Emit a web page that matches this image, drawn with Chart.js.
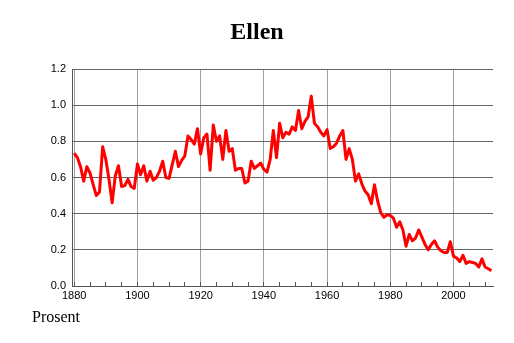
<!DOCTYPE html>
<html>
<head>
<meta charset="utf-8">
<script src="https://cdn.jsdelivr.net/npm/chart.js@4/dist/chart.umd.min.js"></script>
<style>
html,body{margin:0;padding:0;background:#fff;}
#wrap{width:514px;height:343px;}
</style>
</head>
<body>
<div id="wrap"><canvas id="c" width="514" height="343"></canvas></div>
<script>
const chartTitle = 'Ellen';
const unitLabel = 'Prosent';
const years = [
  1880,1881,1882,1883,1884,1885,1886,1887,1888,1889,
  1890,1891,1892,1893,1894,1895,1896,1897,1898,1899,
  1900,1901,1902,1903,1904,1905,1906,1907,1908,1909,
  1910,1911,1912,1913,1914,1915,1916,1917,1918,1919,
  1920,1921,1922,1923,1924,1925,1926,1927,1928,1929,
  1930,1931,1932,1933,1934,1935,1936,1937,1938,1939,
  1940,1941,1942,1943,1944,1945,1946,1947,1948,1949,
  1950,1951,1952,1953,1954,1955,1956,1957,1958,1959,
  1960,1961,1962,1963,1964,1965,1966,1967,1968,1969,
  1970,1971,1972,1973,1974,1975,1976,1977,1978,1979,
  1980,1981,1982,1983,1984,1985,1986,1987,1988,1989,
  1990,1991,1992,1993,1994,1995,1996,1997,1998,1999,
  2000,2001,2002,2003,2004,2005,2006,2007,2008,2009,
  2010,2011,2012
];
const percent = [
  0.735,0.71,0.66,0.58,0.66,0.625,0.56,0.50,0.52,0.77,
  0.70,0.59,0.46,0.61,0.665,0.55,0.555,0.59,0.55,0.54,
  0.675,0.615,0.665,0.58,0.635,0.585,0.60,0.635,0.69,0.60,
  0.595,0.67,0.745,0.66,0.695,0.72,0.83,0.81,0.785,0.87,
  0.73,0.82,0.84,0.64,0.89,0.80,0.83,0.70,0.86,0.745,
  0.76,0.64,0.65,0.65,0.57,0.58,0.69,0.65,0.665,0.68,
  0.645,0.63,0.70,0.86,0.71,0.90,0.82,0.85,0.84,0.88,
  0.86,0.97,0.87,0.91,0.935,1.05,0.90,0.88,0.85,0.83,
  0.865,0.76,0.77,0.79,0.83,0.86,0.70,0.76,0.70,0.58,
  0.62,0.565,0.525,0.505,0.455,0.56,0.47,0.405,0.38,0.395,
  0.39,0.375,0.325,0.355,0.31,0.22,0.285,0.25,0.265,0.31,
  0.27,0.23,0.20,0.23,0.25,0.215,0.195,0.185,0.185,0.245,
  0.165,0.155,0.135,0.17,0.125,0.135,0.13,0.125,0.105,0.15,
  0.105,0.095,0.085
];
const xTickLabels = ['1880','1900','1920','1940','1960','1980','2000'];
const yTickLabels = ['0.0','0.2','0.4','0.6','0.8','1.0','1.2'];

const points = years.map((yr, i) => ({x: yr, y: percent[i]}));

const unitLabelPlugin = {
  id: 'unitLabel',
  afterDraw(chart) {
    const ctx = chart.ctx;
    ctx.save();
    ctx.font = '16px "Liberation Serif", "Times New Roman", serif';
    ctx.fillStyle = '#000';
    ctx.textAlign = 'left';
    ctx.textBaseline = 'alphabetic';
    ctx.fillText(unitLabel, 32, 322);
    ctx.restore();
  }
};

new Chart(document.getElementById('c'), {
  type: 'line',
  data: {
    datasets: [{
      data: points,
      borderColor: '#ff0000',
      backgroundColor: '#ff0000',
      borderWidth: 3,
      borderJoinStyle: 'round',
      pointRadius: 0,
      tension: 0,
      fill: false
    }]
  },
  options: {
    responsive: false,
    devicePixelRatio: 1,
    animation: false,
    events: [],
    layout: {padding: {left: 21, right: 21, top: 0, bottom: 0}},
    plugins: {
      legend: {display: false},
      tooltip: {enabled: false},
      title: {
        display: true,
        text: chartTitle,
        color: '#000',
        font: {family: '"Liberation Serif", "Times New Roman", serif', size: 24, weight: 'bold', lineHeight: 1},
        padding: {top: 21, bottom: 24}
      }
    },
    scales: {
      x: {
        type: 'linear',
        min: 1879.3,
        max: 2012.5,
        afterFit(axis) { axis.height = 57; },
        border: {display: true, color: '#555', width: 1},
        grid: {
          drawOnChartArea: true,
          drawTicks: true,
          tickLength: -4,
          tickColor: '#555',
          color: (c) => (c.tick && xTickLabels.includes(String(c.tick.value))) ? '#a0a0a0' : 'rgba(0,0,0,0)',
          lineWidth: 1
        },
        ticks: {
          stepSize: 5,
          autoSkip: false,
          includeBounds: false,
          maxRotation: 0,
          padding: 7,
          color: '#000',
          font: {family: '"Liberation Sans", Arial, sans-serif', size: 11},
          callback: (v) => xTickLabels.includes(String(v)) ? String(v) : ''
        }
      },
      y: {
        type: 'linear',
        min: 0,
        max: 1.2,
        afterFit(axis) { axis.width = 51; },
        border: {display: true, color: '#555', width: 1},
        grid: {
          drawTicks: false,
          color: '#666',
          lineWidth: 1
        },
        ticks: {
          stepSize: 0.2,
          padding: 6,
          color: '#000',
          font: {family: '"Liberation Sans", Arial, sans-serif', size: 11},
          callback: (v, i) => yTickLabels[i]
        }
      }
    }
  },
  plugins: [unitLabelPlugin]
});
</script>
</body>
</html>
